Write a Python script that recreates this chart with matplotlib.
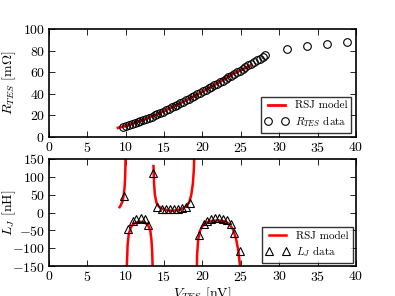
import numpy as np
import matplotlib
matplotlib.use("Agg")
import matplotlib.pyplot as plt

plt.rcParams['font.family'] = 'serif'
plt.rcParams['font.serif'] = ['cmr10']
plt.rcParams['mathtext.fontset'] = 'cm'
plt.rcParams['axes.formatter.use_mathtext'] = True
plt.rcParams['font.size'] = 10
plt.rcParams['xtick.direction'] = 'in'
plt.rcParams['ytick.direction'] = 'in'
plt.rcParams['xtick.top'] = True
plt.rcParams['ytick.right'] = True

# R_TES data (mOhm) vs V_TES (nV)
v_r = [9.70, 10.07, 10.44, 10.81, 11.18, 11.55, 11.92, 12.29, 12.66, 13.03,
       13.40, 13.77, 14.14, 14.51, 14.88, 15.25, 15.62, 15.99, 16.36, 16.73,
       17.10, 17.47, 17.84, 18.21, 18.58, 18.95, 19.32, 19.69, 20.06, 20.43,
       20.80, 21.17, 21.54, 21.91, 22.28, 22.65, 23.02, 23.39, 23.76, 24.13,
       24.50, 24.87, 25.24, 25.61, 25.98, 26.35, 26.72, 27.09, 27.46, 27.83,
       28.20, 31.0, 33.6, 36.2, 38.9]
r_data = [9.5, 10.4, 11.3, 12.2, 13.1, 14.0, 14.9, 15.8, 16.8, 17.7,
          18.8, 20.0, 21.2, 22.4, 23.6, 24.8, 26.1, 27.4, 28.7, 30.0,
          31.3, 32.6, 33.9, 35.3, 36.7, 38.1, 39.5, 40.9, 42.3, 43.7,
          45.1, 46.5, 47.9, 49.3, 50.8, 52.3, 53.8, 55.3, 56.8, 58.3,
          59.9, 61.5, 63.1, 64.7, 66.3, 67.8, 69.4, 71.0, 72.5, 74.0,
          75.5, 81.2, 84.5, 86.4, 87.7]

# RSJ model for R
v_rm = [9.0, 10.0, 12.0, 14.0, 16.0, 18.0, 20.0, 22.0, 24.0, 26.2]
r_model = [8.5, 10.3, 15.3, 20.8, 27.5, 34.5, 42.0, 50.0, 58.5, 66.0]

# L_J data (nH)
v_l = [9.8, 10.33, 10.9, 11.4, 11.95, 12.5, 12.95, 13.5,
       14.1, 14.7, 15.2, 15.8, 16.3, 16.8, 17.3, 17.85, 18.4,
       19.5, 20.2, 20.6, 21.1, 21.7, 22.2, 22.7, 23.15, 23.7, 24.1, 24.9]
l_data = [46, -47, -23, -17, -15, -18, -35, 110,
          14.6, 9.8, 8.9, 8.9, 8.9, 9.8, 11.7, 16.3, 27.5,
          -63, -32, -24, -18, -15, -15, -18, -22, -32, -58, -107]

# RSJ model for L_J (nan separates branches at the poles)
v_lm = [9.2, 9.4, 9.6, 9.75, 9.85, 9.93, 9.98, 10.02, np.nan,
        10.1, 10.15, 10.25, 10.4, 10.7, 11.0, 11.5, 12.0, 12.5, 12.9, 13.2,
        13.35, 13.45, 13.52, 13.56, np.nan,
        13.62, 13.7, 13.8, 14.0, 14.3, 14.8, 15.5, 16.2, 16.8, 17.4, 17.9,
        18.3, 18.55, 18.75, 18.88, 18.97, 19.0, np.nan,
        19.2, 19.3, 19.45, 19.7, 20.0, 20.5, 21.0, 22.0, 23.0, 23.5, 24.0,
        24.4, 24.7, 24.9, 25.0]
l_model = [15, 22, 33, 50, 70, 100, 150, 300, np.nan,
           -300, -150, -90, -60, -40, -32, -27, -26, -28, -35, -50,
           -75, -110, -160, -300, np.nan,
           130, 80, 50, 28, 17, 10, 6, 5, 7, 11, 18,
           30, 50, 80, 120, 180, 300, np.nan,
           -300, -120, -75, -50, -38, -28, -24, -22, -25, -32, -48,
           -75, -110, -150, -300]

xticks = [0, 5, 10, 15, 20, 25, 30, 35, 40]

fig = plt.figure(figsize=(3.95, 2.96), dpi=100)
ax1 = fig.add_axes([0.124, 0.537, 0.777, 0.365])
ax2 = fig.add_axes([0.124, 0.101, 0.777, 0.362])

ax1.plot(v_rm, r_model, color='red', lw=2, label='RSJ model')
ax1.plot(v_r, r_data, 'o', mfc='none', mec='black', ms=5.5, mew=0.8,
         label=r'$R_{TES}$ data')
ax1.set_xlim(0, 40)
ax1.set_ylim(0, 100)
ax1.set_xticks(xticks)
ax1.set_yticks([0, 20, 40, 60, 80, 100])
ax1.set_ylabel(r'$R_{TES}$ [m$\Omega$]')
ax1.yaxis.set_label_coords(-0.1, 0.5)
leg1 = ax1.legend(loc='lower right', numpoints=2, fancybox=False,
                  fontsize=8, borderaxespad=0.4, handlelength=2.1,
                  labelspacing=0.3, borderpad=0.35, handletextpad=0.6)
leg1.get_frame().set_edgecolor('black')
leg1.get_frame().set_linewidth(1.0)

ax2.plot(v_lm, l_model, color='red', lw=1.8, label='RSJ model')
ax2.plot(v_l, l_data, '^', mfc='none', mec='black', ms=6, mew=0.8,
         label=r'$L_J$ data')
ax2.set_xlim(0, 40)
ax2.set_ylim(-150, 150)
ax2.set_xticks(xticks)
ax2.set_yticks([-150, -100, -50, 0, 50, 100, 150])
ax2.set_ylabel(r'$L_J$ [nH]')
ax2.yaxis.set_label_coords(-0.1, 0.5)
ax2.set_xlabel(r'$V_{TES}$ [nV]', labelpad=1)
leg2 = ax2.legend(loc='lower right', numpoints=2, fancybox=False,
                  fontsize=8, borderaxespad=0.3, handlelength=2.1,
                  labelspacing=0.3, borderpad=0.35, handletextpad=0.6)
leg2.get_frame().set_edgecolor('black')
leg2.get_frame().set_linewidth(1.0)

for ax in (ax1, ax2):
    for s in ax.spines.values():
        s.set_linewidth(1.2)
    ax.tick_params(length=4, width=0.6, pad=3)

fig.savefig('out.png', dpi=100)
